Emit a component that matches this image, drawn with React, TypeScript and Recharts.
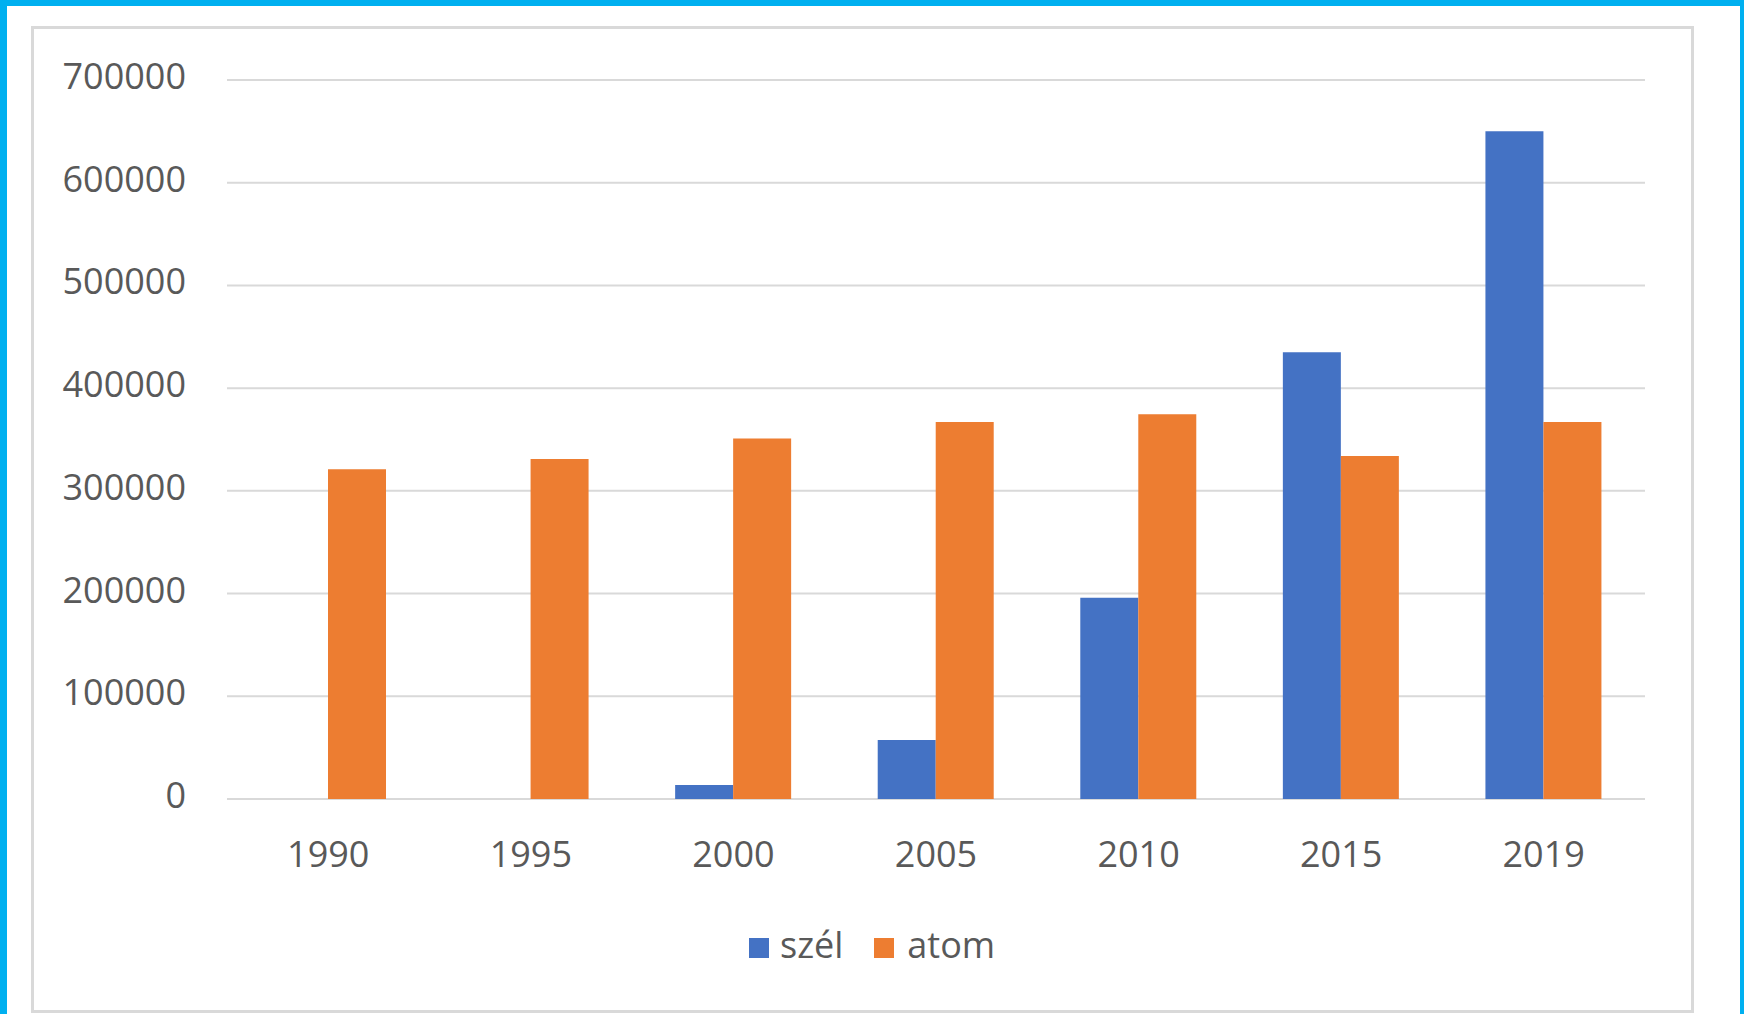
import React from 'react';
import { BarChart, Bar, XAxis, YAxis, CartesianGrid, Legend } from 'recharts';

// Years on the category axis
const years = ['1990', '1995', '2000', '2005', '2010', '2015', '2019'];
// Wind (szél) and nuclear (atom) values per year
const szel = [0, 0, 13600, 57500, 196000, 435000, 650000];
const atom = [321000, 331000, 351000, 367000, 374500, 334000, 367000];
// Value axis ticks
const yTicks = [0, 100000, 200000, 300000, 400000, 500000, 600000, 700000];

const seriesKeys = ['szel', 'atom'];
const seriesNames: Record<string, string> = { szel: 'szél', atom: 'atom' };
const colors: Record<string, string> = { szel: '#4472C4', atom: '#ED7D31' };

const data = years.map((year, i) => ({ year, szel: szel[i], atom: atom[i] }));

const FONT = '"Open Sans", "Noto Sans", sans-serif';
const TEXT = '#595959';
const GRID = '#D9D9D9';

const YTick = (props: any) => {
  const { x, y, payload } = props;
  return (
    <text x={x - 41} y={y + 9} textAnchor="end" fontFamily={FONT} fontSize={36} fill={TEXT}>
      {payload.value}
    </text>
  );
};

const XTick = (props: any) => {
  const { x, y, payload } = props;
  return (
    <text x={x} y={y + 68} textAnchor="middle" fontFamily={FONT} fontSize={36} fill={TEXT}>
      {payload.value}
    </text>
  );
};

// Legend in series order (szél first, then atom)
const LegendContent = (props: any) => {
  const items = [...(props.payload || [])].sort(
    (a: any, b: any) => seriesKeys.indexOf(a.dataKey) - seriesKeys.indexOf(b.dataKey)
  );
  return (
    <div
      style={{
        display: 'flex',
        alignItems: 'baseline',
        fontFamily: FONT,
        fontSize: 36,
        lineHeight: '40px',
        color: TEXT,
        whiteSpace: 'nowrap',
      }}
    >
      {items.map((item: any, i: number) => (
        <span key={i} style={{ display: 'inline-flex', alignItems: 'baseline', marginLeft: i === 0 ? 0 : 31 }}>
          <span
            style={{
              display: 'inline-block',
              width: 20,
              height: 20,
              background: item.color,
              marginRight: i === 0 ? 11 : 13,
            }}
          />
          <span>{item.value}</span>
        </span>
      ))}
    </div>
  );
};

export default function App() {
  return (
    <div
      style={{
        position: 'fixed',
        left: 0,
        top: 0,
        width: 1744,
        height: 1014,
        background: '#00B0F0',
        overflow: 'hidden',
      }}
    >
      <div style={{ position: 'absolute', left: 7, top: 6, width: 1733, height: 1008, background: '#FFFFFF' }} />
      <div
        style={{
          position: 'absolute',
          left: 31,
          top: 26,
          width: 1663,
          height: 987,
          border: `3px solid ${GRID}`,
          boxSizing: 'border-box',
        }}
      />
      <div style={{ position: 'absolute', left: 0, top: 0 }}>
        <BarChart
          width={1744}
          height={1014}
          data={data}
          margin={{ top: 80, right: 99, bottom: 0, left: 0 }}
          barSize={58}
          barGap={0}
        >
          <CartesianGrid horizontal vertical={false} stroke={GRID} strokeWidth={2} />
          <XAxis
            dataKey="year"
            height={215}
            axisLine={false}
            tickLine={false}
            tickSize={0}
            tickMargin={0}
            tick={<XTick />}
            interval={0}
          />
          <YAxis
            width={227}
            domain={[0, 700000]}
            ticks={yTicks}
            axisLine={false}
            tickLine={false}
            tickSize={0}
            tickMargin={0}
            tick={<YTick />}
            interval={0}
          />
          <Legend
            layout="horizontal"
            verticalAlign="middle"
            align="center"
            content={<LegendContent />}
            wrapperStyle={{ left: 749, top: 925, width: 'auto' }}
          />
          {seriesKeys.map((key) => (
            <Bar key={key} dataKey={key} name={seriesNames[key]} fill={colors[key]} isAnimationActive={false} />
          ))}
        </BarChart>
      </div>
    </div>
  );
}
